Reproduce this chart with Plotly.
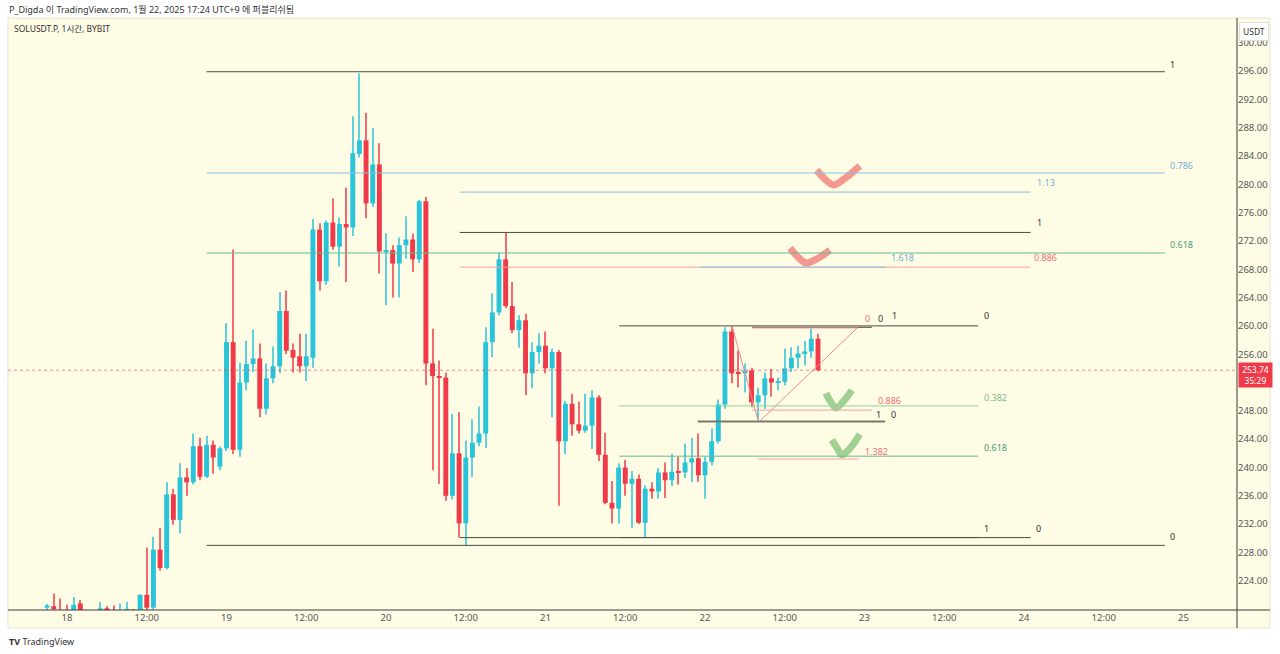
import pandas as pd
import plotly.graph_objects as go

# ---------------- data ----------------
BASE = pd.Timestamp("2025-01-18 00:00")
FIRST_HOUR = -3  # first candle: Jan 17 21:00

opens = [220.2, 220.4, 219.8, 219.6, 219.3, 220.8, 219.5, 219.0, 219.5, 220.1, 219.7, 219.5, 219.8, 219.9,
         219.6, 222.0, 220.2, 228.4, 225.8, 236.2, 232.6, 238.6, 237.9, 243.0, 238.7, 243.2, 240.1,
         242.7, 257.7, 242.5, 252.0, 254.6, 255.4, 248.3, 252.6, 254.3, 262.1, 256.6, 255.7, 254.3,
         255.5, 273.6, 266.3, 274.6, 271.2, 274.4, 273.9, 284.3, 286.2, 277.3, 282.8, 270.5, 270.7,
         268.8, 271.4, 272.2, 269.4, 277.6, 254.7, 252.9, 252.7, 236.0, 242.0, 232.1, 241.4, 243.5,
         244.8, 257.7, 261.9, 269.4, 262.8, 259.4, 260.8, 253.3, 256.3, 257.2, 254.0, 256.3, 243.7,
         249.0, 246.1, 245.2, 245.9, 249.9, 241.8, 235.0, 234.2, 240.0, 237.7, 238.4, 232.2, 237.0,
         236.6, 239.3, 238.2, 239.4, 239.3, 240.7, 241.3, 238.9, 240.8, 243.7, 248.9, 259.2, 253.4,
         253.3, 253.7, 249.2, 250.2, 252.6, 252.0, 252.1, 254.0, 255.5, 256.0, 256.4, 258.2]
highs = [220.7, 222.2, 221.5, 220.6, 221.7, 221.3, 219.8, 219.8, 221.0, 220.4, 220.5, 220.8, 221.0, 220.0,
         222.1, 228.7, 230.2, 231.5, 237.9, 237.0, 240.6, 239.9, 244.8, 244.2, 244.5, 243.8, 243.0,
         260.4, 270.8, 254.8, 257.9, 259.5, 257.5, 254.7, 257.1, 264.8, 265.0, 257.5, 258.9, 258.9,
         275.1, 274.5, 274.9, 278.0, 275.3, 279.5, 289.6, 295.7, 290.1, 287.9, 285.8, 273.1, 271.4,
         272.5, 275.5, 273.0, 277.8, 278.2, 259.6, 255.1, 253.4, 247.6, 247.8, 243.8, 246.8, 248.6,
         259.8, 264.6, 270.3, 273.2, 266.2, 261.5, 261.7, 257.7, 259.0, 259.2, 256.8, 256.6, 249.4,
         250.4, 249.3, 250.4, 250.9, 250.2, 244.9, 238.1, 240.6, 241.1, 239.5, 239.0, 237.5, 237.9,
         239.9, 240.7, 241.9, 241.5, 243.4, 244.2, 244.8, 241.5, 245.5, 249.6, 259.8, 259.9, 256.5,
         254.7, 254.1, 251.3, 253.4, 253.9, 252.7, 256.8, 257.0, 257.2, 257.9, 259.6, 258.9]
lows = [219.5, 219.5, 219.0, 218.5, 219.0, 219.0, 218.5, 218.6, 219.2, 219.3, 219.0, 219.1, 219.3, 219.0,
        219.4, 219.8, 219.9, 225.4, 225.6, 231.9, 230.7, 236.0, 237.6, 238.2, 238.5, 239.1, 239.6,
        242.3, 241.9, 241.5, 250.9, 253.5, 247.1, 247.5, 251.9, 253.3, 256.0, 253.4, 253.4, 252.2,
        254.1, 265.0, 265.8, 270.8, 268.4, 266.2, 272.7, 283.8, 275.2, 276.8, 267.4, 262.9, 264.0,
        264.0, 269.5, 267.6, 268.9, 251.6, 239.6, 237.7, 235.3, 235.5, 230.1, 229.0, 238.7, 243.0,
        242.7, 255.6, 261.5, 262.5, 259.0, 256.9, 250.2, 251.2, 254.7, 253.3, 247.1, 234.6, 241.9,
        244.5, 244.8, 244.9, 242.6, 240.9, 234.8, 232.1, 232.1, 236.0, 231.5, 232.0, 230.1, 235.6,
        235.6, 235.7, 237.4, 237.6, 238.5, 237.9, 238.0, 235.6, 240.3, 243.4, 248.3, 251.9, 251.3,
        250.6, 248.5, 246.7, 248.3, 250.0, 250.9, 251.6, 253.5, 254.0, 254.4, 255.5, 253.6]
closes = [220.5, 220.0, 219.4, 219.2, 220.6, 219.5, 219.0, 219.3, 220.1, 219.7, 219.5, 219.8, 219.9, 219.6,
          222.0, 220.2, 228.4, 225.8, 236.2, 232.6, 238.6, 237.9, 243.0, 238.7, 243.2, 241.4, 242.7,
          257.7, 242.5, 252.0, 254.6, 255.4, 248.3, 252.6, 254.3, 262.1, 256.5, 255.5, 254.3, 255.7,
          273.6, 266.3, 274.6, 271.2, 274.4, 273.9, 284.4, 286.2, 277.3, 282.8, 270.5, 270.7, 268.8,
          271.4, 272.2, 269.4, 277.6, 254.7, 252.9, 252.7, 236.0, 242.0, 232.1, 241.4, 243.5, 244.8,
          257.7, 261.9, 269.4, 262.8, 259.4, 260.8, 253.3, 256.3, 257.2, 254.0, 256.3, 243.7, 249.0,
          246.1, 245.2, 245.9, 249.9, 241.8, 235.0, 234.2, 240.0, 237.7, 238.4, 232.2, 237.0, 236.6,
          239.3, 238.2, 239.4, 239.3, 240.7, 241.3, 238.9, 240.8, 243.7, 248.9, 259.2, 253.3, 253.3,
          253.7, 249.2, 250.2, 252.6, 252.0, 252.1, 254.0, 255.5, 256.1, 256.4, 258.2, 253.74]

LAST_PRICE = 253.74
COUNTDOWN = "35:29"

X_TICK_HOURS = list(range(0, 169, 12))
X_TICK_TEXT = ["18", "12:00", "19", "12:00", "20", "12:00", "21", "12:00",
               "22", "12:00", "23", "12:00", "24", "12:00", "25"]
# 252.00 is hidden behind the last-price tag in the reference
Y_TICKS = [v for v in range(224, 301, 4) if v != 252]

# fibonacci level segments: (start hour, end hour, price, kind)
FIB_LINES = [
    (21.0, 165.2, 295.9, "black"),
    (21.0, 165.2, 281.6, "blue"),
    (21.0, 165.2, 270.3, "green"),
    (21.0, 165.2, 229.0, "black"),
    (59.1, 145.0, 278.9, "blue"),
    (59.1, 145.0, 273.2, "black"),
    (59.1, 145.0, 268.3, "pink"),
    (59.1, 145.0, 230.1, "black"),
    (95.2, 123.2, 268.3, "blue"),
    (83.1, 137.1, 260.0, "black"),
    (83.1, 137.1, 248.7, "green_l"),
    (83.1, 137.1, 241.6, "green"),
    (83.1, 137.1, 230.1, "black"),
    (103.1, 121.1, 259.8, "black"),
    (103.1, 119.0, 259.7, "pink"),
    (103.1, 121.1, 248.1, "pink"),
    (104.0, 119.2, 241.2, "pink"),
    (94.9, 123.1, 246.5, "gray"),
]
# fib labels: (hour, price, text, kind)
FIB_LABELS = [
    (165.8, 296.9, "1", "black"),
    (165.8, 282.7, "0.786", "blue"),
    (165.8, 271.5, "0.618", "green"),
    (165.8, 230.3, "0", "black"),
    (145.8, 280.2, "1.13", "blue"),
    (145.8, 274.6, "1", "black"),
    (145.4, 269.6, "0.886", "pink"),
    (145.7, 231.4, "0", "black"),
    (123.8, 269.6, "1.618", "blue"),
    (137.8, 261.4, "0", "black"),
    (137.8, 249.9, "0.382", "green_l"),
    (137.8, 242.8, "0.618", "green"),
    (137.8, 231.4, "1", "black"),
    (119.9, 261.1, "0", "pink"),
    (121.9, 261.1, "0", "black"),
    (124.0, 261.4, "1", "black"),
    (121.9, 249.5, "0.886", "pink"),
    (121.6, 247.5, "1", "black"),
    (123.8, 247.5, "0", "black"),
    (119.9, 242.3, "1.382", "pink"),
]
# pink trend lines: (hour, price) pairs
TREND_LINES = [
    [(100.1, 259.9), (104.0, 246.6)],
    [(104.3, 246.6), (119.0, 259.8)],
]
# hand-drawn check marks: list of (hour, price) points
CHECKS_RED = [
    [(112.8, 282.0), (114.2, 280.6), (115.3, 279.9), (117.0, 280.8), (119.3, 282.6)],
    [(108.8, 271.0), (110.0, 269.7), (111.2, 268.9), (112.9, 269.5), (114.8, 270.7)],
]
CHECKS_GREEN = [
    [(114.2, 250.5), (114.9, 249.3), (115.7, 248.4), (116.8, 249.3), (118.1, 250.9)],
    [(115.1, 243.9), (115.9, 242.7), (116.6, 241.8), (117.9, 242.8), (119.3, 244.7)],
]

# ---------------- styles ----------------
UP = "#29c4d9"
DOWN = "#f03a4a"
BG = "#fffce6"
LINE_COL = {"black": "#4d4a3c", "blue": "#86c2de", "green": "#66bb8e",
            "green_l": "#8fcf9c", "pink": "#f5a0a0", "gray": "#7a7868"}
LABEL_COL = {"black": "#333333", "blue": "#6fb0d4", "green": "#3d9e78",
             "green_l": "#7cbf88", "pink": "#ee7070", "gray": "#333333"}
FONT = "Noto Sans, Noto Sans CJK KR, sans-serif"


def T(h):
    return BASE + pd.Timedelta(hours=h)


times = [T(FIRST_HOUR + i) for i in range(len(opens))]

HOUR_MS = 3600 * 1000
BODY_W = 0.74 * HOUR_MS
WICK_W = 0.16 * HOUR_MS

fig = go.Figure()

for is_up, col in ((True, UP), (False, DOWN)):
    idx = [i for i in range(len(opens)) if (closes[i] >= opens[i]) == is_up]
    xs = [times[i] for i in idx]
    fig.add_trace(go.Bar(
        x=xs, base=[lows[i] for i in idx], y=[highs[i] - lows[i] for i in idx],
        width=WICK_W, marker=dict(color=col, line=dict(width=0)), opacity=0.75,
        hoverinfo="skip", showlegend=False))
    fig.add_trace(go.Bar(
        x=xs, base=[min(opens[i], closes[i]) for i in idx],
        y=[max(abs(closes[i] - opens[i]), 0.15) for i in idx],
        width=BODY_W, marker=dict(color=col, line=dict(width=0)),
        hoverinfo="skip", showlegend=False))

# trend lines
for seg in TREND_LINES:
    fig.add_trace(go.Scatter(x=[T(p[0]) for p in seg], y=[p[1] for p in seg], mode="lines",
                             line=dict(color="#f08a8a", width=1), hoverinfo="skip", showlegend=False))

# check marks
for group, col in ((CHECKS_RED, "rgba(240,120,115,0.75)"), (CHECKS_GREEN, "rgba(120,190,110,0.7)")):
    for pts in group:
        fig.add_trace(go.Scatter(x=[T(p[0]) for p in pts], y=[p[1] for p in pts], mode="lines",
                                 line=dict(color=col, width=7, shape="spline"),
                                 hoverinfo="skip", showlegend=False))

shapes = []
# cream chart pane
shapes.append(dict(type="rect", xref="paper", yref="paper", x0=0, x1=1.0269, y0=-0.0304, y1=1.0,
                   fillcolor=BG, line=dict(color="#e6e3d0", width=1), layer="below"))
for t0, t1, price, kind in FIB_LINES:
    shapes.append(dict(type="line", xref="x", yref="y", x0=T(t0), x1=T(t1), y0=price, y1=price,
                       line=dict(color=LINE_COL[kind], width=2 if kind == "gray" else 1)))
# last price dotted line
shapes.append(dict(type="line", xref="paper", yref="y", x0=0, x1=1, y0=LAST_PRICE, y1=LAST_PRICE,
                   line=dict(color="rgba(240,58,74,0.6)", width=1, dash="dot")))
# axis lines extending into the axis areas
shapes.append(dict(type="line", xref="paper", yref="paper", x0=0, x1=1.0269, y0=0, y1=0,
                   line=dict(color="#3a3a3a", width=1)))
shapes.append(dict(type="line", xref="paper", yref="paper", x0=1, x1=1, y0=-0.0304, y1=1.0,
                   line=dict(color="#3a3a3a", width=1)))

annotations = []
for h, price, text, kind in FIB_LABELS:
    annotations.append(dict(x=T(h), y=price, xref="x", yref="y", text=text, showarrow=False,
                            xanchor="left", yanchor="middle", borderpad=0,
                            font=dict(family=FONT, size=9, color=LABEL_COL[kind])))

annotations += [
    dict(x=-0.0008, y=1.0152, xref="paper", yref="paper", xanchor="left", yanchor="middle",
         showarrow=False, text="P_Digda 이 TradingView.com, 1월 22, 2025 17:24 UTC+9 에 퍼블리쉬됨",
         font=dict(family=FONT, size=9, color="#333")),
    dict(x=0.0033, y=0.983, xref="paper", yref="paper", xanchor="left", yanchor="middle",
         showarrow=False, text="SOLUSDT.P, 1시간, BYBIT",
         font=dict(family=FONT, size=8.5, color="#333")),
    dict(x=1.0138, y=0.978, xref="paper", yref="paper", xanchor="center", yanchor="middle",
         showarrow=False, text="USDT", bgcolor="#ffffff", bordercolor="#dddddd", borderwidth=1,
         borderpad=3, font=dict(family=FONT, size=8.5, color="#333")),
    dict(x=1.0008, y=LAST_PRICE, xref="paper", yref="y", xanchor="left", yanchor="top", yshift=8,
         showarrow=False, text=f"{LAST_PRICE:.2f}<br>{COUNTDOWN}", align="center",
         bgcolor="#f03a4a", borderpad=1, width=31,
         font=dict(family=FONT, size=8.5, color="#ffffff")),
    dict(x=-0.0008, y=-0.0524, xref="paper", yref="paper", xanchor="left", yanchor="middle",
         showarrow=False, text="<b>TV</b> TradingView",
         font=dict(family=FONT, size=9, color="#333")),
]

fig.update_layout(
    width=1280, height=654,
    margin=dict(l=8, r=43, t=18, b=44),
    paper_bgcolor="#ffffff", plot_bgcolor=BG,
    barmode="overlay", showlegend=False,
    shapes=shapes, annotations=annotations,
    font=dict(family=FONT, size=10, color="#555"),
    xaxis=dict(type="date", range=[T(-8.88), T(176.05)], tickvals=[T(h) for h in X_TICK_HOURS],
               ticktext=X_TICK_TEXT, showgrid=False, zeroline=False, showline=False, ticks="",
               tickfont=dict(family=FONT, size=9.5, color="#555"), fixedrange=True),
    yaxis=dict(side="right", range=[219.87, 303.49], tickvals=Y_TICKS,
               ticktext=[f"{v:.2f}" for v in Y_TICKS], showgrid=False, zeroline=False,
               showline=False, ticks="", tickfont=dict(family=FONT, size=9.5, color="#555"),
               fixedrange=True),
)

fig.write_html("out.html", config={"displayModeBar": False},
               post_script="document.body.style.margin='0';document.body.style.overflow='hidden';")
